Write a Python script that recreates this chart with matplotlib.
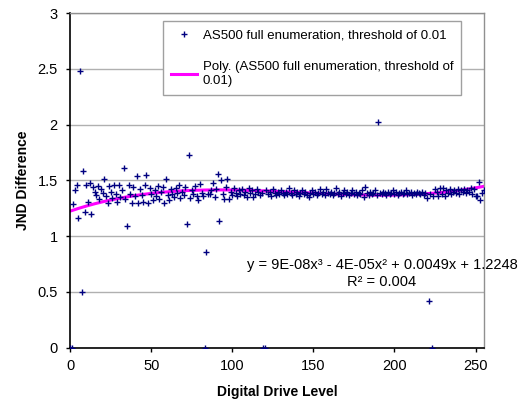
import numpy as np
import matplotlib.pyplot as plt

plt.rcParams['font.family'] = ['Liberation Sans', 'DejaVu Sans']

# digital drive level 0..255 and the JND difference
levels = np.arange(256)
jnd_diff = [
    0.00, 0.00, 1.29, 1.41, 1.46, 1.16, 2.48, 0.50, 1.58, 1.22, 1.46, 1.31, 1.48, 1.20, 1.44, 1.40,
    1.37, 1.45, 1.33, 1.42, 1.39, 1.51, 1.36, 1.30, 1.45, 1.40, 1.34, 1.46, 1.38, 1.31, 1.46, 1.35,
    1.41, 1.61, 1.33, 1.09, 1.46, 1.38, 1.30, 1.44, 1.36, 1.54, 1.30, 1.42, 1.37, 1.31, 1.46, 1.55,
    1.30, 1.43, 1.38, 1.32, 1.41, 1.36, 1.45, 1.33, 1.40, 1.44, 1.30, 1.51, 1.37, 1.32, 1.42, 1.38,
    1.35, 1.43, 1.39, 1.46, 1.34, 1.40, 1.37, 1.44, 1.11, 1.73, 1.34, 1.41, 1.38, 1.45, 1.36, 1.32,
    1.47, 1.39, 1.36, 0.00, 0.86, 1.38, 1.38, 1.41, 1.48, 1.35, 1.42, 1.56, 1.14, 1.50, 1.38, 1.33,
    1.44, 1.51, 1.33, 1.40, 1.37, 1.43, 1.39, 1.36, 1.41, 1.38, 1.42, 1.37, 1.40, 1.35, 1.43, 1.39,
    1.41, 1.35, 1.38, 1.42, 1.40, 1.37, 1.39, 0.00, 0.00, 1.41, 1.38, 1.40, 1.36, 1.42, 1.39, 1.37,
    1.40, 1.38, 1.41, 1.39, 1.37, 1.40, 1.38, 1.43, 1.39, 1.37, 1.41, 1.38, 1.40, 1.36, 1.39, 1.41,
    1.38, 1.40, 1.37, 1.35, 1.39, 1.41, 1.38, 1.40, 1.37, 1.39, 1.42, 1.38, 1.40, 1.37, 1.42, 1.39,
    1.38, 1.40, 1.37, 1.39, 1.43, 1.38, 1.40, 1.36, 1.39, 1.41, 1.38, 1.40, 1.37, 1.39, 1.41, 1.38,
    1.40, 1.37, 1.39, 1.38, 1.41, 1.35, 1.44, 1.39, 1.37, 1.40, 1.38, 1.39, 1.41, 1.37, 2.02, 1.39,
    1.38, 1.40, 1.39, 1.37, 1.40, 1.38, 1.39, 1.41, 1.38, 1.40, 1.37, 1.39, 1.40, 1.38, 1.39, 1.41,
    1.38, 1.39, 1.40, 1.37, 1.39, 1.38, 1.40, 1.39, 1.38, 1.40, 1.37, 1.39, 1.34, 0.42, 1.38, 0.00,
    1.36, 1.42, 1.40, 1.36, 1.43, 1.38, 1.43, 1.36, 1.41, 1.39, 1.42, 1.38, 1.40, 1.41, 1.39, 1.42,
    1.38, 1.41, 1.40, 1.42, 1.39, 1.41, 1.40, 1.43, 1.38, 1.42, 1.36, 1.36, 1.49, 1.32, 1.39, 1.41,
]
# cubic trendline coefficients (shown rounded in the chart's equation)
trend_coef = [9.3e-08, -3.96e-05, 0.00492, 1.2248]

series_label = 'AS500 full enumeration, threshold of 0.01'
trend_label = 'Poly. (AS500 full enumeration, threshold of\n0.01)'
equation = 'y = 9E-08x³ - 4E-05x² + 0.0049x + 1.2248'
r_squared = 'R² = 0.004'

fig = plt.figure(figsize=(5.26, 4.0), dpi=100)
ax = fig.add_axes([0.1335, 0.131, 0.786, 0.836])

ax.plot(levels, jnd_diff, linestyle='none', marker='+', markersize=5,
        markeredgewidth=1.0, color='#000080', label=series_label, zorder=3)

xs = np.linspace(0, 255, 300)
ax.plot(xs, np.polyval(trend_coef, xs), color='#ff00ff', linewidth=2.2,
        label=trend_label, zorder=2)

ax.set_xlim(0, 255)
ax.set_ylim(0, 3)
ax.set_xticks([0, 50, 100, 150, 200, 250])
ax.set_yticks([0, 0.5, 1, 1.5, 2, 2.5, 3])
ax.set_yticklabels(['0', '0.5', '1', '1.5', '2', '2.5', '3'])
ax.yaxis.grid(True, color='#b0b0b0', linewidth=1)
ax.set_axisbelow(True)
ax.tick_params(labelsize=10.5, length=3, width=1, color='black')
ax.tick_params(axis='y', pad=6)
ax.tick_params(axis='x', pad=5)

for side in ['left', 'bottom']:
    ax.spines[side].set_color('black')
    ax.spines[side].set_linewidth(1.2)
for side in ['right', 'top']:
    ax.spines[side].set_color('#909090')
    ax.spines[side].set_linewidth(1)

ax.set_xlabel('Digital Drive Level', fontsize=10, fontweight='bold', labelpad=9)
ax.set_ylabel('JND Difference', fontsize=10, fontweight='bold', labelpad=5)

leg = ax.legend(loc='upper left', bbox_to_anchor=(0.215, 0.9875), fontsize=9.5,
                frameon=True, fancybox=False, edgecolor='#a0a0a0', framealpha=1,
                handlelength=2.0, handletextpad=0.4, labelspacing=1.5,
                borderpad=0.6, borderaxespad=0.3)
leg.get_frame().set_linewidth(1)

ax.text(0.754, 0.247, equation, transform=ax.transAxes, ha='center',
        va='center', fontsize=10.5, clip_on=False)
ax.text(0.754, 0.197, r_squared, transform=ax.transAxes, ha='center',
        va='center', fontsize=10.5, clip_on=False)

fig.savefig('out.png', dpi=100)
